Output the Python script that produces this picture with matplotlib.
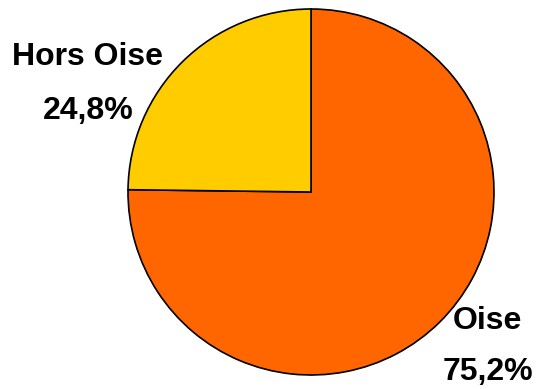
import matplotlib
matplotlib.use("Agg")
import matplotlib.pyplot as plt

labels = ["Oise", "Hors Oise"]
shares = [75.2, 24.8]
colors = ["#FF6600", "#FFCC00"]

W, H = 539, 389
fig = plt.figure(figsize=(W / 100, H / 100), dpi=100)
ax = fig.add_axes([0, 0, 1, 1])

ax.pie(shares, colors=colors, startangle=90, counterclock=False,
       center=(311, H - 192), radius=183,
       wedgeprops=dict(edgecolor="black", linewidth=1.2))

# pie() resets the limits, so fix them afterwards (1 unit = 1 pixel)
ax.set_xlim(0, W)
ax.set_ylim(0, H)
ax.set_aspect("equal")
ax.axis("off")

font = dict(family="Liberation Sans", fontweight="bold", fontsize=23,
            ha="center", va="center")
label_pos = {"Hors Oise": [(88, 57), (88, 111)], "Oise": [(487, 321), (488, 372)]}
for name, val in zip(labels, shares):
    (x1, y1), (x2, y2) = label_pos[name]
    ax.text(x1, H - y1, name, **font)
    ax.text(x2, H - y2, f"{val:.1f}%".replace(".", ","), **font)

fig.savefig("out.png", dpi=100)
